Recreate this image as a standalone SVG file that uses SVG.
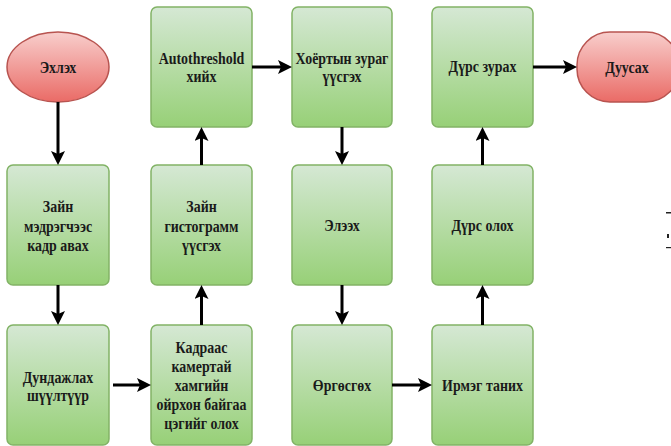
<svg xmlns="http://www.w3.org/2000/svg" width="671" height="446" viewBox="0 0 671 446">
<defs>
<linearGradient id="gG" x1="0" y1="0" x2="0" y2="1">
<stop offset="0" stop-color="#d5e8d4"/>
<stop offset="1" stop-color="#97d077"/>
</linearGradient>
<linearGradient id="gR" x1="0" y1="0" x2="0" y2="1">
<stop offset="0" stop-color="#f8cecc"/>
<stop offset="1" stop-color="#ea6b66"/>
</linearGradient>
<marker id="ah" markerUnits="userSpaceOnUse" viewBox="0 0 14 14" markerWidth="14" markerHeight="14" refX="10" refY="7" orient="auto">
<path d="M0,0 L14,7 L0,14 L3,7 Z" fill="#000"/>
</marker>
</defs>
<style>
.box{fill:url(#gG);stroke:#82b366;stroke-width:1.5}
.term{fill:url(#gR);stroke:#b85450;stroke-width:1.5}
text{font-family:'Liberation Serif','Times New Roman',serif;font-weight:700;font-size:17px;fill:#1a1a1a;text-anchor:middle}
.c{fill:none;stroke:#000;stroke-width:3;marker-end:url(#ah)}
</style>
<rect width="671" height="446" fill="#fff"/>

<g id="start">
<ellipse class="term" cx="58" cy="67" rx="51" ry="35"/>
<text transform="translate(58 72.5) scale(0.82 1)">Эхлэх</text>
</g>
<g id="frame">
<rect class="box" x="7" y="165" width="102" height="120" rx="6"/>
<text transform="translate(58 212) scale(0.82 1)">Зайн</text>
<text transform="translate(58 232) scale(0.82 1)">мэдрэгчээс</text>
<text transform="translate(58 251) scale(0.82 1)">кадр авах</text>
</g>
<g id="mean">
<rect class="box" x="7" y="325" width="102" height="120" rx="6"/>
<text transform="translate(58 382.5) scale(0.82 1)">Дундажлах</text>
<text transform="translate(58 401) scale(0.82 1)">шүүлтүүр</text>
</g>
<g id="nearest">
<rect class="box" x="151" y="325" width="101" height="120" rx="6"/>
<text transform="translate(201.5 353) scale(0.82 1)">Кадраас</text>
<text transform="translate(201.5 372) scale(0.82 1)">камертай</text>
<text transform="translate(201.5 391) scale(0.82 1)">хамгийн</text>
<text transform="translate(201.5 410) scale(0.82 1)">ойрхон байгаа</text>
<text transform="translate(201.5 428.5) scale(0.82 1)">цэгийг олох</text>
</g>
<g id="hist">
<rect class="box" x="151" y="165" width="101" height="120" rx="6"/>
<text transform="translate(201.5 212) scale(0.82 1)">Зайн</text>
<text transform="translate(201.5 232) scale(0.82 1)">гистограмм</text>
<text transform="translate(201.5 251) scale(0.82 1)">үүсгэх</text>
</g>
<g id="auto">
<rect class="box" x="151" y="7" width="101" height="120" rx="6"/>
<text transform="translate(201.5 63.5) scale(0.82 1)">Autothreshold</text>
<text transform="translate(201.5 82) scale(0.82 1)">хийх</text>
</g>
<g id="binary">
<rect class="box" x="292" y="7" width="100" height="120" rx="6"/>
<text transform="translate(342 63.5) scale(0.82 1)">Хоёртын зураг</text>
<text transform="translate(342 82) scale(0.82 1)">үүсгэх</text>
</g>
<g id="erode">
<rect class="box" x="292" y="165" width="100" height="120" rx="6"/>
<text transform="translate(342 230.5) scale(0.82 1)">Элээх</text>
</g>
<g id="dilate">
<rect class="box" x="292" y="325" width="100" height="120" rx="6"/>
<text transform="translate(342 390.5) scale(0.82 1)">Өргөсгөх</text>
</g>
<g id="edge">
<rect class="box" x="432" y="325" width="101" height="120" rx="6"/>
<text transform="translate(482.5 390.5) scale(0.82 1)">Ирмэг таних</text>
</g>
<g id="find">
<rect class="box" x="432" y="165" width="101" height="120" rx="6"/>
<text transform="translate(482.5 230.5) scale(0.82 1)">Дүрс олох</text>
</g>
<g id="draw">
<rect class="box" x="432" y="7" width="101" height="120" rx="6"/>
<text transform="translate(482.5 72) scale(0.82 1)">Дүрс зурах</text>
</g>
<g id="end">
<rect class="term" x="577" y="32" width="102" height="70" rx="33"/>
<text transform="translate(627 73) scale(0.82 1)">Дуусах</text>
</g>

<g id="connectors">
<path class="c" d="M58,102 V161"/>
<path class="c" d="M58,285 V321"/>
<path class="c" d="M113,385 H147"/>
<path class="c" d="M201.5,325 V289"/>
<path class="c" d="M201.5,165 V131"/>
<path class="c" d="M252,67 H288"/>
<path class="c" d="M342,127 V161"/>
<path class="c" d="M342,285 V321"/>
<path class="c" d="M392,385 H428"/>
<path class="c" d="M482.5,325 V289"/>
<path class="c" d="M482.5,165 V131"/>
<path class="c" d="M533,67 H573"/>
</g>

<g id="edge-fragment" fill="#222">
<rect x="666" y="212" width="5" height="1.5"/>
<rect x="667" y="234" width="2" height="4"/>
<rect x="666" y="247" width="5" height="1.2"/>
</g>
</svg>
